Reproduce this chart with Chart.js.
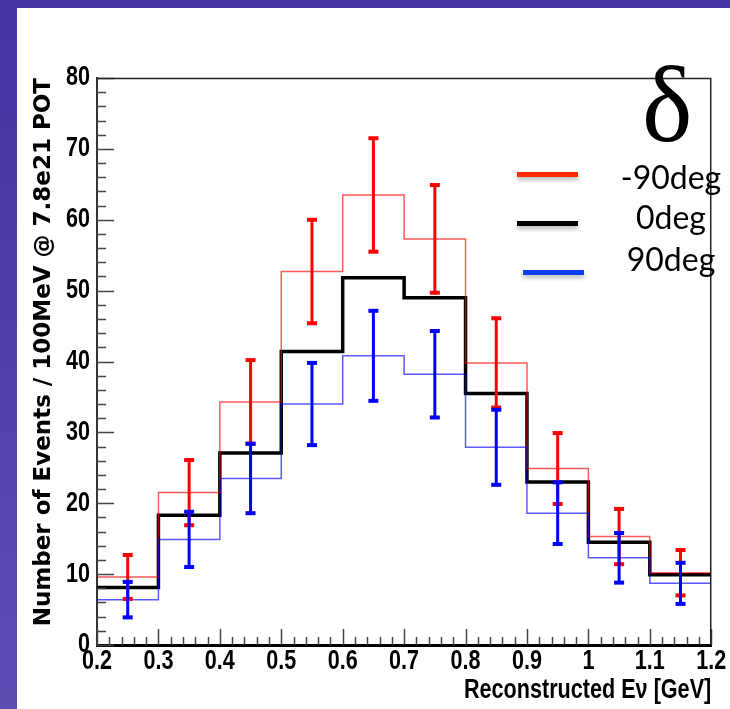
<!DOCTYPE html>
<html>
<head>
<meta charset="utf-8">
<script src="https://cdn.jsdelivr.net/npm/chart.js@4.4.0/dist/chart.umd.min.js"></script>
<style>
  html, body { margin: 0; padding: 0; }
  body {
    width: 730px; height: 709px; overflow: hidden; position: relative;
    background: linear-gradient(180deg, #4733a5 0%, #5242ac 55%, #5d4db3 100%);
  }
  #panel { position: absolute; left: 17px; top: 8px; width: 713px; height: 701px; background: #fff; }
  #panel canvas { position: absolute; left: 0; top: 0; }
  .delta {
    position: absolute; left: 642px; top: 52px;
    font-family: "Liberation Serif", "DejaVu Serif", serif; font-size: 107px; line-height: 1; color: #000;
  }
  .key { position: absolute; height: 5px; width: 61px; box-shadow: 0 3px 4px rgba(0,0,0,0.28); }
  .lab {
    position: absolute; width: 120px; left: 611px; text-align: center;
    font-family: Lato, "Open Sans", sans-serif; font-size: 32px; line-height: 1.2; color: #000;
  }
</style>
</head>
<body>
<div id="panel"><canvas id="c" width="713" height="701"></canvas></div>
<div class="delta">δ</div>
<div class="key" style="left:517px; top:172px; background:rgb(255,42,0);"></div>
<div class="key" style="left:517px; top:221px; background:#000;"></div>
<div class="key" style="left:523px; top:270px; background:rgb(12,60,255);"></div>
<div class="lab" style="top:158px;">-90deg</div>
<div class="lab" style="top:198px;">0deg</div>
<div class="lab" style="top:240px;">90deg</div>
<script>
// histogram bins (GeV)
const binEdges = [0.2, 0.3, 0.4, 0.5, 0.6, 0.7, 0.8, 0.9, 1.0, 1.1, 1.2];
const binCenters = [0.25, 0.35, 0.45, 0.55, 0.65, 0.75, 0.85, 0.95, 1.05, 1.15];

// events per bin for each delta
const minus90 = [9.6, 21.5, 34.3, 52.7, 63.5, 57.3, 39.8, 24.9, 15.3, 10.2];
const minus90Err = [3.1, 4.6, 5.9, 7.3, 8.0, 7.6, 6.3, 5.0, 3.9, 3.2];
const zero = [8.1, 18.3, 27.1, 41.4, 51.8, 49.0, 35.5, 23.0, 14.5, 9.9];
const plus90 = [6.4, 14.9, 23.5, 34.0, 40.8, 38.2, 27.9, 18.6, 12.3, 8.7];
const plus90Err = [2.5, 3.9, 4.9, 5.8, 6.35, 6.1, 5.3, 4.35, 3.5, 2.9];

const xTicks = [0.2, 0.3, 0.4, 0.5, 0.6, 0.7, 0.8, 0.9, 1.0, 1.1, 1.2];
const xTickLabels = ['0.2', '0.3', '0.4', '0.5', '0.6', '0.7', '0.8', '0.9', '1', '1.1', '1.2'];
const yTicks = [0, 10, 20, 30, 40, 50, 60, 70, 80];
const yTickLabels = ['0', '10', '20', '30', '40', '50', '60', '70', '80'];

const axisFont = "'Liberation Sans', Arial, sans-serif";
const squeeze = 0.8;   // ROOT's axis text is a narrow helvetica

// one point per bin edge, the last one repeats the last bin
function stepPoints(vals){
    return binEdges.map((x, i) => ({x: x, y: vals[Math.min(i, vals.length - 1)]}));
}

const errorSets = [
    {vals: minus90, errs: minus90Err, color: '#ff0000'},
    {vals: plus90, errs: plus90Err, color: '#0000ff'}
];

// narrow the horizontal axis text; rotated text (y title) is left alone
const condense = {
    id: 'condense',
    beforeDraw(chart){
        const ctx = chart.ctx;
        if(ctx._plainFillText) return;
        const plain = ctx.fillText;
        ctx._plainFillText = plain;
        ctx.fillText = function(text, x, y, maxWidth){
            const m = this.getTransform();
            if(m.b != 0 || m.c != 0) return maxWidth === undefined ? plain.call(this, text, x, y) : plain.call(this, text, x, y, maxWidth);
            this.save();
            this.translate(x, y);
            this.scale(squeeze, 1);
            if(maxWidth === undefined) plain.call(this, text, 0, 0);
            else plain.call(this, text, 0, 0, maxWidth / squeeze);
            this.restore();
        };
    }
};

const errorBars = {
    id: 'errorBars',
    afterDatasetsDraw(chart){
        const ctx = chart.ctx;
        const x = chart.scales.x, y = chart.scales.y;
        ctx.save();
        errorSets.forEach(s => {
            ctx.strokeStyle = s.color;
            ctx.fillStyle = s.color;
            ctx.lineWidth = 3;
            s.vals.forEach((v, i) => {
                const px = x.getPixelForValue(binCenters[i]);
                const top = y.getPixelForValue(v + s.errs[i]);
                const bot = y.getPixelForValue(v - s.errs[i]);
                ctx.beginPath();
                ctx.moveTo(px, top);
                ctx.lineTo(px, bot);
                ctx.stroke();
                ctx.fillRect(px - 5, top - 2, 10, 4);
                ctx.fillRect(px - 5, bot - 2, 10, 4);
            });
        });
        ctx.restore();
    }
};

// ROOT style frame: ticks inside the plot, thin top/right edges
const rootFrame = {
    id: 'rootFrame',
    afterDraw(chart){
        const ctx = chart.ctx;
        const a = chart.chartArea;
        const x = chart.scales.x, y = chart.scales.y;
        ctx.save();
        ctx.strokeStyle = '#444';
        ctx.lineWidth = 1.5;
        ctx.beginPath();
        for(let k = 0; k <= 40; k++){
            const py = Math.round(y.getPixelForValue(k * 2)) + 0.5;
            const len = k % 5 == 0 ? 17 : 9;
            ctx.moveTo(a.left, py);
            ctx.lineTo(a.left + len, py);
        }
        for(let k = 0; k <= 50; k++){
            const px = Math.round(x.getPixelForValue(0.2 + k * 0.02)) + 0.5;
            const len = k % 5 == 0 ? 16 : 8;
            ctx.moveTo(px, a.bottom);
            ctx.lineTo(px, a.bottom - len);
        }
        ctx.stroke();
        ctx.strokeStyle = '#222';
        ctx.beginPath();
        ctx.moveTo(a.left, a.top + 0.5);
        ctx.lineTo(a.right - 0.5, a.top + 0.5);
        ctx.lineTo(a.right - 0.5, a.bottom);
        ctx.stroke();
        ctx.restore();
    }
};

function histSet(label, vals, color, width, order){
    return {
        label: label,
        data: stepPoints(vals),
        borderColor: color,
        borderWidth: width,
        stepped: 'before',
        pointRadius: 0,
        fill: false,
        borderJoinStyle: 'miter',
        order: order
    };
}

let chart = new Chart(document.getElementById('c').getContext('2d'), {
    type: 'line',
    data: {
        datasets: [
            histSet('-90deg', minus90, 'rgba(255,0,0,0.65)', 1.5, 2),
            histSet('0deg', zero, '#000', 3.5, 3),
            histSet('90deg', plus90, 'rgba(0,0,255,0.65)', 1.5, 1)
        ]
    },
    options: {
        responsive: false,
        animation: false,
        devicePixelRatio: 1,
        layout: {padding: {top: 70, right: 17, left: 0, bottom: 0}},
        plugins: {legend: {display: false}, tooltip: {enabled: false}},
        scales: {
            x: {
                type: 'linear', min: 0.2, max: 1.2,
                afterBuildTicks: s => { s.ticks = xTicks.map(v => ({value: v})); },
                afterFit: s => { s.height = 64; },
                grid: {display: false, drawTicks: false},
                border: {display: true, color: '#000', width: 3},
                ticks: {
                    color: '#000', padding: 0, autoSkip: false, maxRotation: 0,
                    font: {family: axisFont, size: 27, weight: 'bold'},
                    callback: (v, i) => xTickLabels[i]
                },
                title: {
                    display: true, text: 'Reconstructed Eν [GeV]', align: 'end', color: '#000',
                    font: {family: axisFont, size: 27, weight: 'bold'},
                    padding: {top: 0, bottom: 2}
                }
            },
            y: {
                type: 'linear', min: 0, max: 80,
                afterBuildTicks: s => { s.ticks = yTicks.map(v => ({value: v})); },
                afterFit: s => { s.width = 80; },
                grid: {display: false, drawTicks: false},
                border: {display: true, color: '#333', width: 2},
                ticks: {
                    color: '#000', padding: 7,
                    font: {family: axisFont, size: 27, weight: 'bold'},
                    callback: (v, i) => yTickLabels[i]
                },
                title: {
                    display: true, text: 'Number of Events / 100MeV @ 7.8e21 POT', align: 'end', color: '#000',
                    font: {family: "'DejaVu Sans', sans-serif", size: 23, weight: 'bold'},
                    padding: {top: 13, bottom: 0}
                }
            }
        }
    },
    plugins: [condense, errorBars, rootFrame]
});
</script>
</body>
</html>
